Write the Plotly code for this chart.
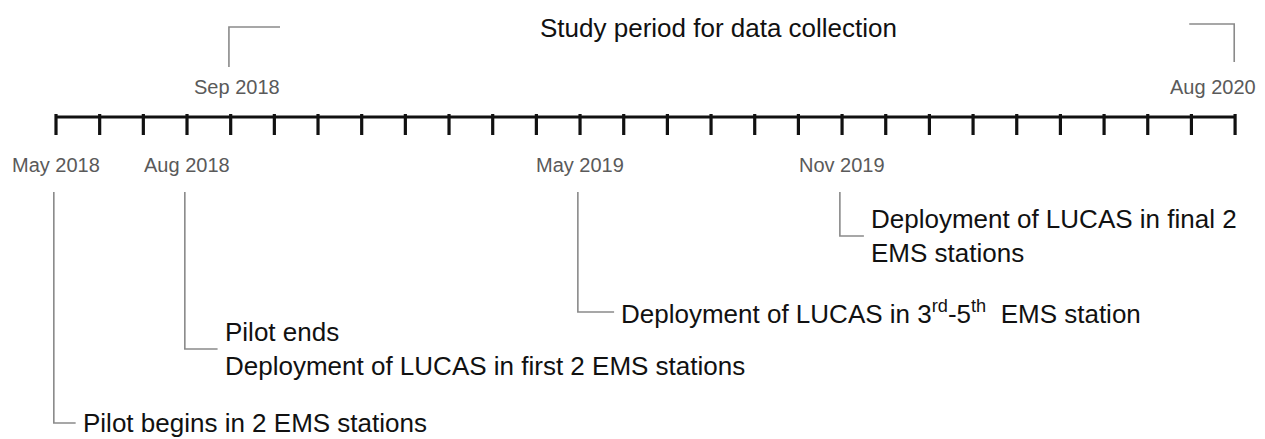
import plotly.graph_objects as go

# ---- data ----
months = ["May 2018", "Jun 2018", "Jul 2018", "Aug 2018", "Sep 2018", "Oct 2018",
          "Nov 2018", "Dec 2018", "Jan 2019", "Feb 2019", "Mar 2019", "Apr 2019",
          "May 2019", "Jun 2019", "Jul 2019", "Aug 2019", "Sep 2019", "Oct 2019",
          "Nov 2019", "Dec 2019", "Jan 2020", "Feb 2020", "Mar 2020", "Apr 2020",
          "May 2020", "Jun 2020", "Jul 2020", "Aug 2020"]
event_months = ["May 2018", "Aug 2018", "May 2019", "Nov 2019"]
event_texts = [
    "Pilot begins in 2 EMS stations",
    "Pilot ends<br>Deployment of LUCAS in first 2 EMS stations",
    "Deployment of LUCAS in 3<sup>rd</sup>-5<sup>th</sup>\u00a0 EMS station",
    "Deployment of LUCAS in final 2<br>EMS stations",
]
study_start, study_end = "Sep 2018", "Aug 2020"
study_title = "Study period for data collection"

# ---- layout parameters (screen-pixel-like y units, reversed axis) ----
VIEW_W, VIEW_H = 1265, 439
PAGE_OFF = 8                      # default body margin of the html page
FIG_W, FIG_H = VIEW_W - PAGE_OFF, VIEW_H - PAGE_OFF
X0_PX, STEP_PX = 56.0, 43.67
AXIS_Y = 117
TICK_LEN = 15
elbow_y = [423, 349, 312, 236]
elbow_len = [0.45, 0.7, 0.78, 0.5]
LINE_TOP = 192
GREY = "#8a8a8a"
FONT = "Liberation Sans, Arial, Helvetica, sans-serif"

idx = {m: i for i, m in enumerate(months)}
xs = list(range(len(months)))

fig = go.Figure()
# timeline
fig.add_trace(go.Scatter(x=[xs[0], xs[-1]], y=[AXIS_Y, AXIS_Y], mode="lines",
                         line=dict(color="#111111", width=3.2), hoverinfo="skip"))
fig.add_trace(go.Scatter(x=xs, y=[AXIS_Y + TICK_LEN / 2] * len(xs), mode="markers",
                         marker=dict(symbol="line-ns", size=TICK_LEN,
                                     line=dict(color="#111111", width=3.2)),
                         hoverinfo="skip"))

annotations = []
shapes = []

# month labels under the axis for events
for m in event_months:
    annotations.append(dict(x=idx[m], y=165, text=m, showarrow=False,
                            font=dict(size=20, color="#5a5a5a", family=FONT),
                            xanchor="center", yanchor="middle"))
# event connectors and texts
for m, t, ey, el in zip(event_months, event_texts, elbow_y, elbow_len):
    x = idx[m]
    shapes.append(dict(type="path", xref="x", yref="y",
                       path=f"M {x - 0.05},{LINE_TOP} L {x - 0.05},{ey} L {x + el},{ey}",
                       line=dict(color=GREY, width=1.6)))
    annotations.append(dict(x=x + el, y=ey, text=t, showarrow=False, align="left",
                            xanchor="left", yanchor="middle", xshift=5,
                            font=dict(size=26, color="#111111", family=FONT)))

# study period brackets
xs0, xs1 = idx[study_start], idx[study_end]
shapes.append(dict(type="path", xref="x", yref="y",
                   path=f"M {xs0 - 0.04},67 L {xs0 - 0.04},27 L {xs0 + 1.13},27",
                   line=dict(color=GREY, width=1.6)))
shapes.append(dict(type="path", xref="x", yref="y",
                   path=f"M {xs1 - 1.05},24 L {xs1 - 0.02},24 L {xs1 - 0.02},62",
                   line=dict(color=GREY, width=1.6)))
annotations.append(dict(x=xs0, y=87, text=study_start, showarrow=False, xshift=6,
                        yanchor="middle",
                        font=dict(size=20, color="#5a5a5a", family=FONT)))
annotations.append(dict(x=xs1, y=87, text=study_end, showarrow=False, xshift=-22,
                        yanchor="middle",
                        font=dict(size=20, color="#5a5a5a", family=FONT)))
annotations.append(dict(x=15.16, y=28, text=study_title, showarrow=False,
                        xanchor="center", yanchor="middle",
                        font=dict(size=26, color="#111111", family=FONT)))

fig.update_layout(
    width=FIG_W, height=FIG_H,
    margin=dict(l=0, r=0, t=0, b=0),
    paper_bgcolor="white", plot_bgcolor="white",
    showlegend=False,
    xaxis=dict(range=[(PAGE_OFF - X0_PX) / STEP_PX, (VIEW_W - X0_PX) / STEP_PX],
               visible=False, fixedrange=True),
    yaxis=dict(range=[VIEW_H, PAGE_OFF], visible=False, fixedrange=True),
    annotations=annotations, shapes=shapes,
)

fig.write_html("out.html")
